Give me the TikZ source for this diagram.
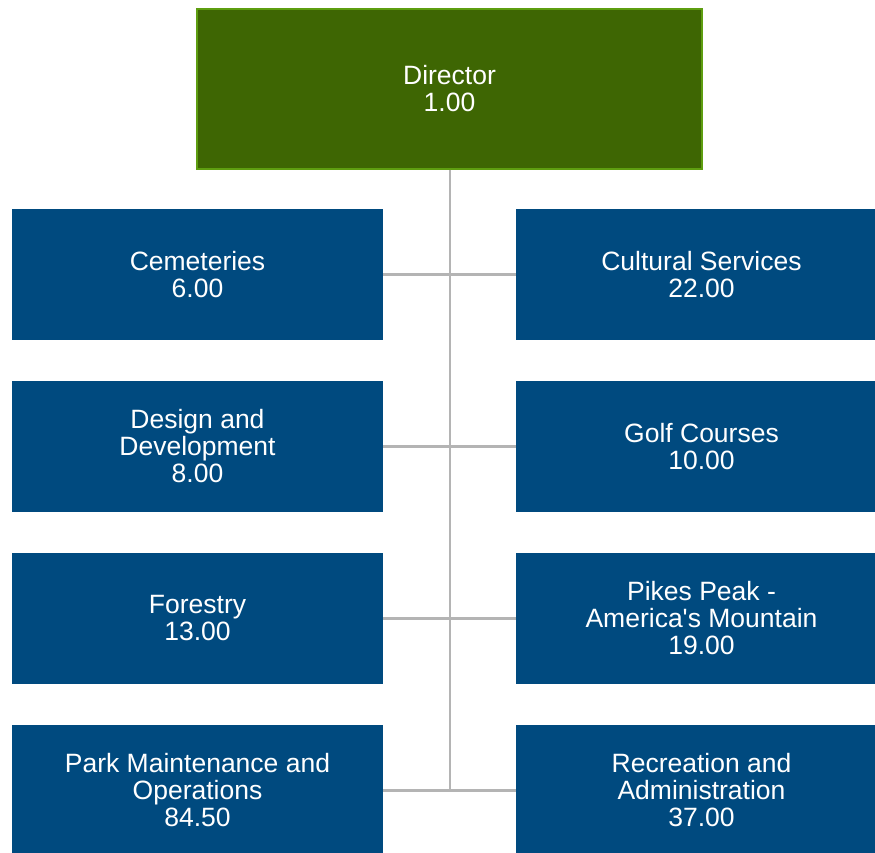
\documentclass[tikz,border=0pt]{standalone}
\usepackage{fontspec}
\setmainfont{Liberation Sans}[Ligatures=TeXOff]
\definecolor{dirfill}{HTML}{3E6603}
\definecolor{dirline}{HTML}{5E9E10}
\definecolor{boxblue}{HTML}{004A7F}
\definecolor{conngray}{HTML}{B4B4B4}
\begin{document}
\begin{tikzpicture}[x=1pt,y=-1pt,
  unitbox/.style={rectangle, fill=boxblue, minimum width=371pt, minimum height=131pt,
    inner sep=0pt, text=white, align=center, font=\fontsize{26.5}{27}\selectfont},
  dirbox/.style={rectangle, fill=dirfill, draw=dirline, line width=2pt, minimum width=505pt,
    minimum height=160pt, inner sep=0pt, text=white, align=center, font=\fontsize{26.5}{27}\selectfont},
  conn/.style={draw=conngray, line width=2.5pt}]
\useasboundingbox (0,0) rectangle (875,852);
\fill[white] (0,0) rectangle (875,852);
% nodes
\node[dirbox] (dir) at (449.5,88.5) {Director\\1.00};
\node[unitbox] (cem) at (197.5,274.5) {Cemeteries\\6.00};
\node[unitbox] (cul) at (701.5,274.5) {Cultural Services\\22.00};
\node[unitbox] (des) at (197.5,446.5) {Design and\\Development\\8.00};
\node[unitbox] (gol) at (701.5,446.5) {Golf Courses\\10.00};
\node[unitbox] (for) at (197.5,618.5) {Forestry\\13.00};
\node[unitbox] (pik) at (701.5,618.5) {Pikes Peak -\\America's Mountain\\19.00};
\node[unitbox] (par) at (197.5,790.5) {Park Maintenance and\\Operations\\84.50};
\node[unitbox] (rec) at (701.5,790.5) {Recreation and\\Administration\\37.00};
\coordinate (bot) at (450,790.5);
% connectors
\draw[conn] (dir.south -| bot) -- (bot);
\draw[conn] (cem.east) -- (cul.west);
\draw[conn] (des.east) -- (gol.west);
\draw[conn] (for.east) -- (pik.west);
\draw[conn] (par.east) -- (rec.west);
\end{tikzpicture}
\end{document}
